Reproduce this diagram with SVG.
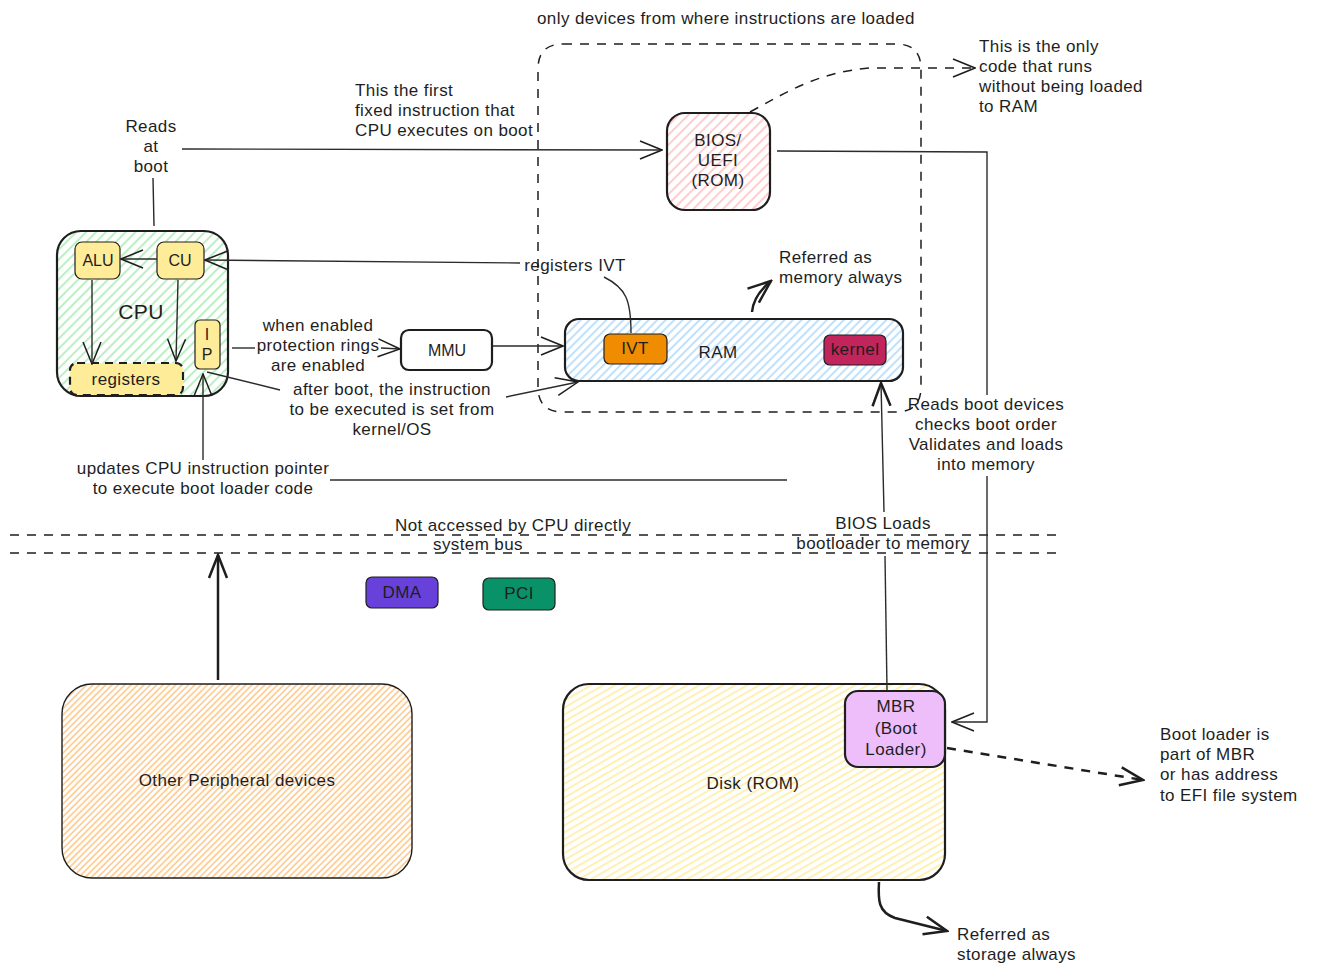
<svg xmlns="http://www.w3.org/2000/svg" width="1318" height="975" viewBox="0 0 1318 975">
<defs>
<style>
text{font-family:"Liberation Sans","DejaVu Sans",sans-serif;font-size:17px;letter-spacing:0.4px;fill:#1e1e1e}
.c{text-anchor:middle}
.s15{font-size:16px;letter-spacing:0}
.s20{font-size:21px}
.box{stroke:#1e1e1e;stroke-width:2.2}
.ln{fill:none;stroke:#2b2b2b;stroke-width:1.4}
.th{fill:none;stroke:#1e1e1e;stroke-width:2.5}
.dash{fill:none;stroke:#1e1e1e;stroke-width:1.5;stroke-dasharray:9 8}
</style>
<pattern id="hG" width="7" height="7" patternUnits="userSpaceOnUse" patternTransform="rotate(45)"><rect width="7" height="7" fill="#fff"/><line x1="1" y1="0" x2="1" y2="7" stroke="#a3ecae" stroke-width="1.5"/></pattern>
<pattern id="hR" width="7" height="7" patternUnits="userSpaceOnUse" patternTransform="rotate(45)"><rect width="7" height="7" fill="#fff"/><line x1="1" y1="0" x2="1" y2="7" stroke="#ffbcbc" stroke-width="1.5"/></pattern>
<pattern id="hB" width="6" height="6" patternUnits="userSpaceOnUse" patternTransform="rotate(45)"><rect width="6" height="6" fill="#fff"/><line x1="1" y1="0" x2="1" y2="6" stroke="#94cefc" stroke-width="1.2"/></pattern>
<pattern id="hO" width="4.5" height="4.5" patternUnits="userSpaceOnUse" patternTransform="rotate(45)"><rect width="4.5" height="4.5" fill="#fff"/><line x1="1" y1="0" x2="1" y2="4.5" stroke="#ffb766" stroke-width="1.2"/></pattern>
<pattern id="hY" width="6" height="6" patternUnits="userSpaceOnUse" patternTransform="rotate(60)"><rect width="6" height="6" fill="#fff"/><line x1="1" y1="0" x2="1" y2="6" stroke="#ffe680" stroke-width="1.2"/></pattern>
<marker id="ah" viewBox="0 0 24 24" refX="23" refY="12" markerWidth="24" markerHeight="24" markerUnits="userSpaceOnUse" orient="auto"><path d="M1,3 L23,12 L1,21" fill="none" stroke="#1e1e1e" stroke-width="1.5"/></marker>
<marker id="ahT" viewBox="0 0 26 26" refX="24" refY="13" markerWidth="26" markerHeight="26" markerUnits="userSpaceOnUse" orient="auto"><path d="M1,4 L24,13 L1,22" fill="none" stroke="#1e1e1e" stroke-width="2.5"/></marker>
</defs>
<rect width="1318" height="975" fill="#fff"/>

<g id="boot-area">
<path class="dash" d="M563,44 L896,44 Q921,44 921,69 L921,387 Q921,412 896,412 L563,412 Q538,412 538,387 L538,69 Q538,44 563,44 Z"/>
<text x="537" y="24">only devices from where instructions are loaded</text>
</g>

<g id="system-bus">
<line class="dash" x1="10" y1="535" x2="1057" y2="535"/>
<line class="dash" x1="10" y1="553" x2="1057" y2="553"/>
</g>

<g id="cpu">
<rect class="box" x="57" y="231" width="171" height="165" rx="24" fill="url(#hG)"/>
<text class="c s20" x="141" y="319">CPU</text>
</g>
<g id="alu">
<rect x="75" y="242" width="45" height="37" rx="7" fill="#ffec99" stroke="#1e1e1e" stroke-width="1.2"/>
<text class="c s15" x="98" y="266">ALU</text>
</g>
<g id="cu">
<rect x="157" y="242" width="47" height="37" rx="7" fill="#ffec99" stroke="#1e1e1e" stroke-width="1.2"/>
<text class="c s15" x="180" y="266">CU</text>
</g>
<g id="ip">
<rect x="195" y="320" width="25" height="49" rx="5" fill="#ffec99" stroke="#1e1e1e" stroke-width="1.2"/>
<text class="c s15" x="207" y="340">I</text>
<text class="c s15" x="207" y="360">P</text>
</g>
<g id="registers">
<rect x="70" y="363" width="113" height="32" rx="7" fill="#ffec99" stroke="#1e1e1e" stroke-width="2.2" stroke-dasharray="8 6"/>
<text class="c" x="126" y="385">registers</text>
</g>

<g id="reads-at-boot">
<text class="c" x="151" y="132">Reads</text>
<text class="c" x="151" y="152">at</text>
<text class="c" x="151" y="172">boot</text>
</g>
<g id="first-instr-label">
<text x="355" y="96">This the first</text>
<text x="355" y="116">fixed instruction that</text>
<text x="355" y="136">CPU executes on boot</text>
</g>

<g id="bios">
<rect class="box" x="667" y="113" width="103" height="97" rx="18" fill="url(#hR)"/>
<text class="c" x="718" y="146">BIOS/</text>
<text class="c" x="718" y="166">UEFI</text>
<text class="c" x="718" y="186">(ROM)</text>
</g>
<g id="only-code-label">
<text x="979" y="52">This is the only</text>
<text x="979" y="72">code that runs</text>
<text x="979" y="92">without being loaded</text>
<text x="979" y="112">to RAM</text>
</g>

<g id="registers-ivt-label">
<text class="c" x="575" y="271">registers IVT</text>
</g>

<g id="mmu">
<rect class="box" x="401" y="330" width="91" height="40" rx="8" fill="#fff"/>
<text class="c s15" x="447" y="356">MMU</text>
</g>
<g id="protection-label">
<text class="c" x="318" y="331">when enabled</text>
<text class="c" x="318" y="351">protection rings</text>
<text class="c" x="318" y="371">are enabled</text>
</g>
<g id="after-boot-label">
<text class="c" x="392" y="395">after boot, the instruction</text>
<text class="c" x="392" y="415">to be executed is set from</text>
<text class="c" x="392" y="435">kernel/OS</text>
</g>

<g id="ram">
<rect class="box" x="565" y="319" width="338" height="62" rx="14" fill="url(#hB)"/>
<text class="c" x="718" y="358">RAM</text>
</g>
<g id="ivt">
<rect x="604" y="334" width="63" height="30" rx="6" fill="#f08c00" stroke="#1e1e1e" stroke-width="1.2"/>
<text class="c" x="635" y="354">IVT</text>
</g>
<g id="kernel">
<rect x="824" y="335" width="62" height="30" rx="6" fill="#c2255c" stroke="#1e1e1e" stroke-width="1.2"/>
<text class="c" x="855" y="355">kernel</text>
</g>
<g id="memory-label">
<text x="779" y="263">Referred as</text>
<text x="779" y="283">memory always</text>
</g>

<g id="reads-boot-label">
<text class="c" x="986" y="410">Reads boot devices</text>
<text class="c" x="986" y="430">checks boot order</text>
<text class="c" x="986" y="450">Validates and loads</text>
<text class="c" x="986" y="470">into memory</text>
</g>
<g id="updates-label">
<text class="c" x="203" y="474">updates CPU instruction pointer</text>
<text class="c" x="203" y="494">to execute boot loader code</text>
</g>
<g id="bus-label">
<text class="c" x="513" y="531">Not accessed by CPU directly</text>
<text class="c" x="478" y="550">system bus</text>
</g>
<g id="bios-loads-label">
<text class="c" x="883" y="529">BIOS Loads</text>
<text class="c" x="883" y="549">bootloader to memory</text>
</g>

<g id="dma">
<rect x="366" y="577" width="72" height="31" rx="6" fill="#6741d9" stroke="#1e1e1e" stroke-width="1.2"/>
<text class="c" x="402" y="598">DMA</text>
</g>
<g id="pci">
<rect x="483" y="578" width="72" height="32" rx="6" fill="#099268" stroke="#1e1e1e" stroke-width="1.2"/>
<text class="c" x="519" y="599">PCI</text>
</g>

<g id="peripherals">
<rect x="62" y="684" width="350" height="194" rx="30" fill="url(#hO)" stroke="#1e1e1e" stroke-width="1.4"/>
<text class="c" x="237" y="786">Other Peripheral devices</text>
</g>

<g id="disk">
<rect class="box" x="563" y="684" width="382" height="196" rx="26" fill="url(#hY)"/>
<text class="c" x="753" y="789">Disk (ROM)</text>
</g>
<g id="mbr">
<rect class="box" x="845" y="691" width="100" height="76" rx="13" fill="#eebefa"/>
<text class="c" x="896" y="712">MBR</text>
<text class="c" x="896" y="734">(Boot</text>
<text class="c" x="896" y="755">Loader)</text>
</g>
<g id="boot-loader-label">
<text x="1160" y="740">Boot loader is</text>
<text x="1160" y="760">part of MBR</text>
<text x="1160" y="780">or has address</text>
<text x="1160" y="801">to EFI file system</text>
</g>
<g id="storage-label">
<text x="957" y="940">Referred as</text>
<text x="957" y="960">storage always</text>
</g>

<g id="connectors">
<line class="ln" x1="153" y1="178" x2="154" y2="226"/>
<line class="ln" x1="182" y1="149" x2="662" y2="150" marker-end="url(#ah)"/>
<path class="dash" d="M750,112 C790,90 820,72 870,68 L975,68" marker-end="url(#ah)"/>
<polyline class="ln" points="777,151 987,152 987,395"/>
<polyline class="ln" points="987,476 987,722 952,722" marker-end="url(#ah)"/>
<path class="ln" stroke-width="1" d="M631,333 C631,300 626,288 604,277"/>
<line class="ln" x1="520" y1="263" x2="205" y2="260" marker-end="url(#ah)"/>
<line class="ln" x1="157" y1="259" x2="121" y2="259" marker-end="url(#ah)"/>
<line class="ln" x1="92" y1="280" x2="92" y2="364" marker-end="url(#ah)"/>
<line class="ln" x1="178" y1="280" x2="176" y2="361" marker-end="url(#ah)"/>
<line class="ln" x1="232" y1="348" x2="255" y2="348"/>
<line class="ln" x1="381" y1="348" x2="400" y2="349" marker-end="url(#ah)"/>
<line class="ln" x1="493" y1="346" x2="563" y2="346" marker-end="url(#ah)"/>
<line class="ln" x1="207" y1="372" x2="280" y2="390"/>
<line class="ln" x1="506" y1="397" x2="578" y2="382" marker-end="url(#ah)"/>
<line class="ln" x1="203" y1="460" x2="203" y2="374" marker-end="url(#ah)"/>
<line class="ln" x1="330" y1="480" x2="787" y2="480"/>
<path class="th" d="M752,312 C753,300 760,290 771,281" marker-end="url(#ahT)"/>
<line class="ln" x1="887" y1="690" x2="885" y2="556"/>
<line class="ln" x1="884" y1="512" x2="881" y2="383" marker-end="url(#ahT)"/>
<line class="th" x1="218" y1="680" x2="218" y2="555" marker-end="url(#ahT)"/>
<line class="th" x1="947" y1="748" x2="1143" y2="780" stroke-dasharray="9 8" marker-end="url(#ahT)"/>
<path class="th" d="M879,882 C878,900 878,912 895,918 L947,931" marker-end="url(#ahT)"/>
</g>
</svg>
